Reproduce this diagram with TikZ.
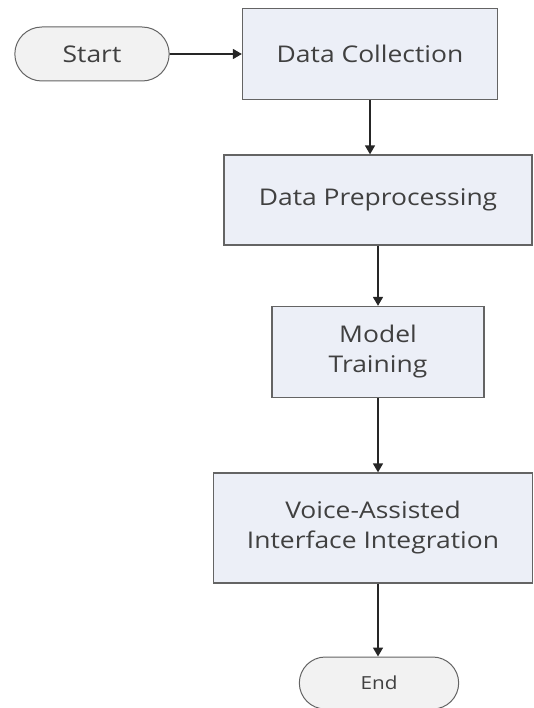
\documentclass[tikz,border=0pt]{standalone}
\usepackage{fontspec}
\setmainfont{Open Sans}[FakeStretch=1.15]
\usetikzlibrary{shapes.misc,arrows.meta}
\definecolor{boxfill}{RGB}{236,239,247}
\definecolor{termfill}{RGB}{242,242,242}
\definecolor{edge}{RGB}{100,100,100}

\begin{document}
\begin{tikzpicture}[x=1pt, y=-1pt,
    stepbox/.style={
        draw=edge,
        line width=1.3pt,
        fill=boxfill,
        align=center,
        text=black!75,
        font=\fontsize{23}{30}\selectfont
    },
    terminal/.style={
        rounded rectangle,
        draw=edge,
        line width=1pt,
        fill=termfill,
        text=black!75,
        font=\fontsize{23}{28}\selectfont
    },
    flow/.style={
        -{Triangle[length=9pt,width=10pt]},
        line width=1.6pt,
        black!85
    }
]

\useasboundingbox (0,0) rectangle (534,708);

%%%%%%%%%%%%%%%%%%%%%%%%
% Inicio y recogida de datos
%%%%%%%%%%%%%%%%%%%%%%%%

\node[terminal, minimum width=161pt, minimum height=54pt] (start) at (92,54) {Start};
\node[stepbox, minimum width=255pt, minimum height=91pt] (collect) at (370,54) {Data Collection};

%%%%%%%%%%%%%%%%%%%%%%%%
% Pasos intermedios
%%%%%%%%%%%%%%%%%%%%%%%%

\node[stepbox, minimum width=308pt, minimum height=90pt] (prep) at (378,200) {Data Preprocessing};
\node[stepbox, minimum width=212pt, minimum height=91pt] (train) at (378,352) {Model\\Training};
\node[stepbox, minimum width=319pt, minimum height=110pt] (voice) at (373,528) {Voice-Assisted\\Interface Integration};

%%%%%%%%%%%%%%%%%%%%%%%%
% Fin
%%%%%%%%%%%%%%%%%%%%%%%%

\node[terminal, minimum width=166pt, minimum height=52pt, font=\fontsize{18}{20}\selectfont] (finish) at (379,683) {End};

% --- Flechas ---
\draw[flow] (start) -- (collect);
\draw[flow] (collect.south) -- (collect.south |- prep.north);
\draw[flow] (prep.south) -- (train.north);
\draw[flow] (train.south) -- (train.south |- voice.north);
\draw[flow] (voice.south -| train.south) -- (finish.north -| train.south);

\end{tikzpicture}
\end{document}
